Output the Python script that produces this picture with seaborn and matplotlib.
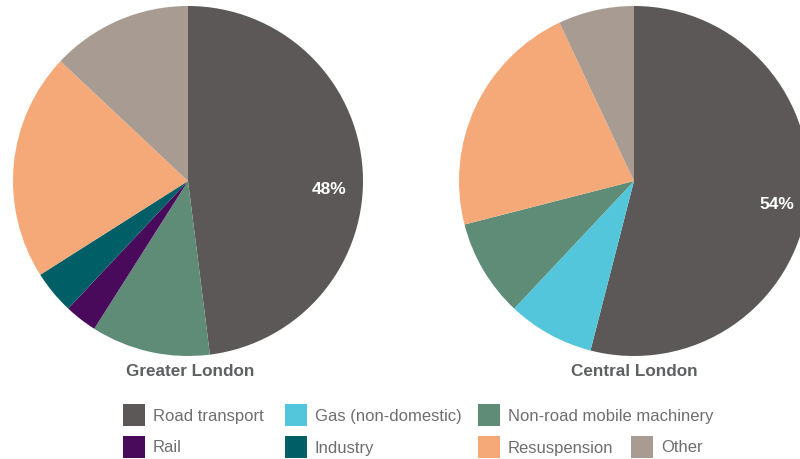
import matplotlib
matplotlib.use("Agg")
import matplotlib.pyplot as plt
from matplotlib.patches import Rectangle
import seaborn as sns

# Source categories and their colours
sources = ["Road transport", "Gas (non-domestic)", "Non-road mobile machinery",
           "Rail", "Industry", "Resuspension", "Other"]
source_colors = ["#5b5857", "#53c6db", "#5e8c77", "#4a0a5c", "#005f66",
                 "#f5a878", "#a89b92"]

# PM shares (%) by source, in clockwise order from 12 o'clock
greater_sources = ["Road transport", "Non-road mobile machinery", "Rail",
                   "Industry", "Resuspension", "Other"]
greater_shares = [48, 11, 3, 4, 21, 13]

central_sources = ["Road transport", "Gas (non-domestic)",
                   "Non-road mobile machinery", "Resuspension", "Other"]
central_shares = [54, 8, 9, 22, 7]

titles = ["Greater London", "Central London"]

sns.set_theme(style="white")
plt.rcParams["font.family"] = ["Liberation Sans", "DejaVu Sans"]

W, H = 800, 459
fig = plt.figure(figsize=(W / 100, H / 100), dpi=100)
color_of = dict(zip(sources, source_colors))

def px_axes(x0, y0, w, h):
    return fig.add_axes([x0 / W, 1 - (y0 + h) / H, w / W, h / H])

# (names, shares, axes left px, label distance, label vertical nudge)
pie_specs = [
    (greater_sources, greater_shares, 13, 0.81, -0.10),
    (central_sources, central_shares, 459, 0.82, -0.03),
]
for (names, shares, left, pdist, dy), title, cx in zip(pie_specs, titles, [190, 634]):
    ax = px_axes(left, 6, 350, 350)
    wedges, _, autotexts = ax.pie(
        shares,
        colors=[color_of[n] for n in names],
        startangle=90, counterclock=False, radius=1.0,
        autopct=lambda p: f"{p:.0f}%" if p > 40 else "",
        pctdistance=pdist,
        wedgeprops=dict(linewidth=0),
        textprops=dict(color="white", fontsize=12.5, fontweight="bold"),
    )
    for t in autotexts:
        x, y = t.get_position()
        t.set_position((x, y + dy))
    ax.set_xlim(-1, 1)
    ax.set_ylim(-1, 1)
    ax.set_aspect("equal")
    ax.axis("off")
    fig.text(cx / W, 1 - 372 / H, title, ha="center", va="center",
             fontsize=12.3, fontweight="bold", color="#5f6062")

# Two-row legend
legend_rows = [
    [("Road transport", 123), ("Gas (non-domestic)", 285),
     ("Non-road mobile machinery", 478)],
    [("Rail", 123), ("Industry", 285), ("Resuspension", 478), ("Other", 631)],
]
row_tops = [404, 436]
box = 22
for row, top in zip(legend_rows, row_tops):
    for name, x in row:
        fig.patches.append(Rectangle((x / W, 1 - (top + box) / H), box / W, box / H,
                                     transform=fig.transFigure,
                                     facecolor=color_of[name], edgecolor="none"))
        fig.text((x + box + 8) / W, 1 - (top + box / 2 + 1) / H, name,
                 ha="left", va="center", fontsize=12, color="#6d6e70")

fig.savefig("out.png", dpi=100)
